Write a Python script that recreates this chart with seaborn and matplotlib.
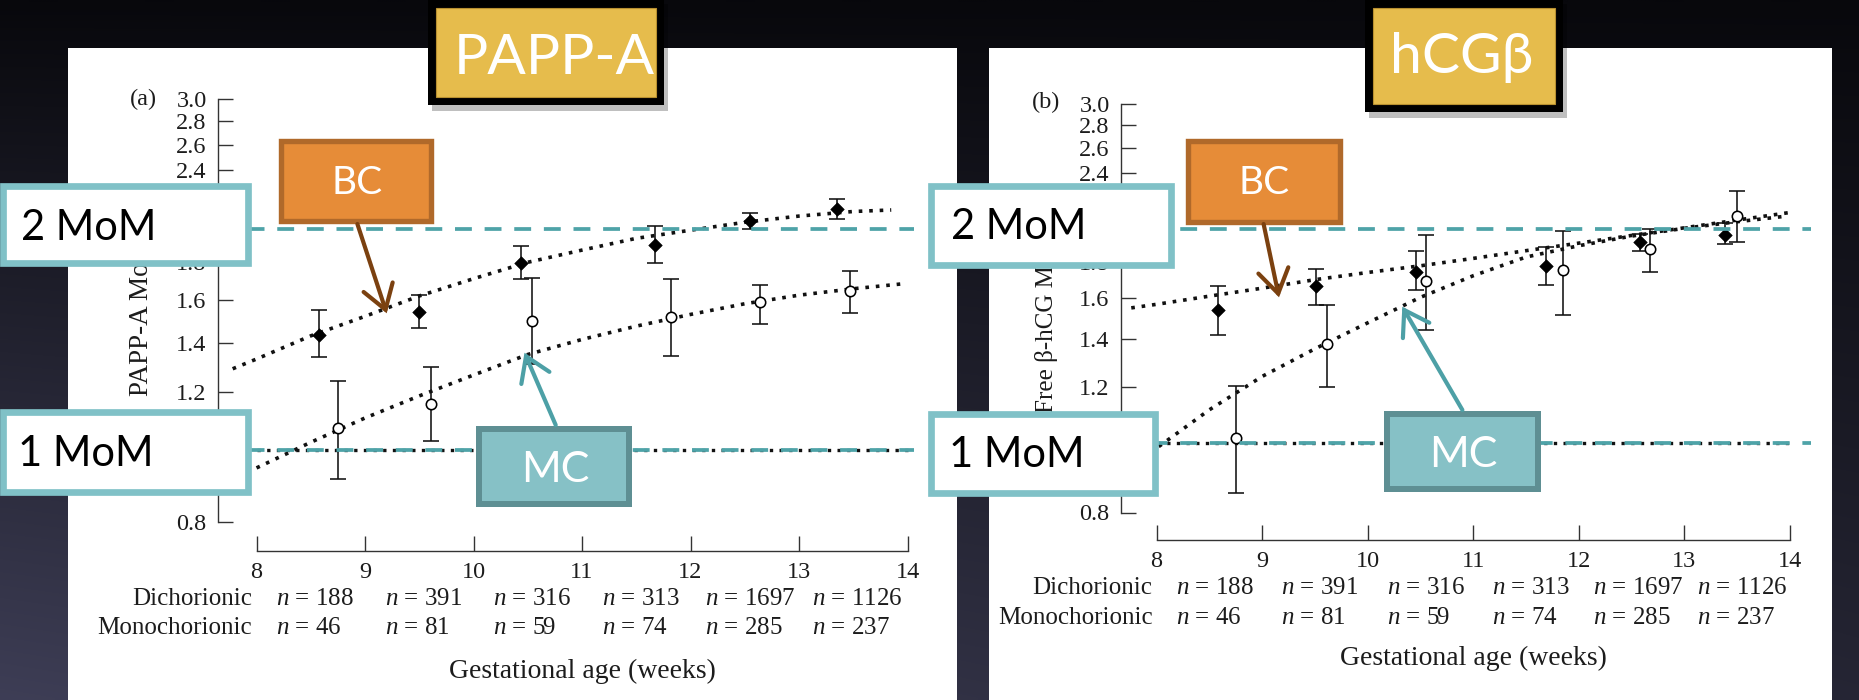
import numpy as np
import pandas as pd
import matplotlib
matplotlib.use("Agg")
import matplotlib.pyplot as plt
import seaborn as sns
from matplotlib.patches import Rectangle, FancyArrowPatch
from matplotlib.ticker import FixedLocator, FuncFormatter, NullLocator

# ---------------- data ----------------
week_ticks = [8, 9, 10, 11, 12, 13, 14]
mom_ticks = [0.8, 1.0, 1.2, 1.4, 1.6, 1.8, 2.0, 2.2, 2.4, 2.6, 2.8, 3.0]
mom_levels = [1.0, 2.0]
mom_level_labels = ["1 MoM", "2 MoM"]
n_dichorionic = [188, 391, 316, 313, 1697, 1126]
n_monochorionic = [46, 81, 59, 74, 285, 237]

# (a) PAPP-A
papp_bc_week = [8.58, 9.50, 10.44, 11.67, 12.55, 13.35]
papp_bc_mom = [1.432, 1.543, 1.796, 1.898, 2.047, 2.127]
papp_bc_lo = [1.337, 1.467, 1.710, 1.796, 1.998, 2.062]
papp_bc_hi = [1.548, 1.627, 1.892, 2.017, 2.097, 2.193]
papp_mc_week = [8.75, 9.61, 10.54, 11.82, 12.64, 13.47]
papp_mc_mom = [1.073, 1.157, 1.497, 1.517, 1.588, 1.644]
papp_mc_lo = [0.915, 1.030, 1.310, 1.342, 1.485, 1.535]
papp_mc_hi = [1.240, 1.297, 1.713, 1.706, 1.676, 1.750]
papp_bc_fit_week = [7.78, 8.0, 8.5, 9.0, 9.5, 10.0, 10.5, 11.0, 11.5, 12.0, 12.5, 13.0, 13.5, 13.85]
papp_bc_fit_mom = [1.29, 1.33, 1.43, 1.52, 1.62, 1.71, 1.80, 1.87, 1.94, 1.99, 2.04, 2.08, 2.11, 2.12]
papp_mc_fit_week = [8.0, 8.5, 9.0, 9.5, 10.0, 10.5, 11.0, 11.5, 12.0, 12.5, 13.0, 13.5, 13.96]
papp_mc_fit_mom = [0.946, 1.025, 1.106, 1.185, 1.265, 1.349, 1.414, 1.474, 1.529, 1.581, 1.624, 1.657, 1.683]

# (b) free beta-hCG
hcg_bc_week = [8.58, 9.51, 10.46, 11.69, 12.58, 13.38]
hcg_bc_mom = [1.541, 1.665, 1.742, 1.772, 1.915, 1.963]
hcg_bc_lo = [1.422, 1.566, 1.640, 1.667, 1.860, 1.907]
hcg_bc_hi = [1.665, 1.759, 1.860, 1.890, 1.968, 2.039]
hcg_mc_week = [8.75, 9.61, 10.55, 11.85, 12.67, 13.50]
hcg_mc_mom = [1.019, 1.380, 1.693, 1.750, 1.875, 2.087]
hcg_mc_lo = [0.851, 1.199, 1.445, 1.513, 1.738, 1.917]
hcg_mc_hi = [1.203, 1.566, 1.963, 1.989, 2.002, 2.258]
hcg_bc_fit_week = [7.76, 8.0, 8.5, 9.0, 9.5, 10.0, 10.5, 11.0, 11.5, 12.0, 12.5, 13.0, 13.5, 14.0]
hcg_bc_fit_mom = [1.550, 1.568, 1.610, 1.652, 1.698, 1.738, 1.776, 1.819, 1.865, 1.911, 1.959, 2.008, 2.059, 2.110]
hcg_mc_fit_week = [8.02, 8.5, 9.0, 9.5, 10.0, 10.5, 11.0, 11.5, 12.0, 12.5, 13.0, 13.5, 13.94]
hcg_mc_fit_mom = [0.990, 1.115, 1.242, 1.358, 1.477, 1.604, 1.720, 1.827, 1.895, 1.955, 2.005, 2.048, 2.083]

# tick labels that sit entirely under the slide's "MoM" boxes
covered_ticks = [1.0, 2.0, 2.2]

# ---------------- style ----------------
sns.set_theme(style="ticks")
plt.rcParams["font.family"] = ["Liberation Serif", "DejaVu Serif"]
plt.rcParams["mathtext.fontset"] = "custom"
plt.rcParams["mathtext.it"] = "Liberation Serif:italic"
plt.rcParams["mathtext.rm"] = "Liberation Serif"
SANS = ["Lato", "Open Sans", "DejaVu Sans"]

W, H = 1859, 700
fig = plt.figure(figsize=(W / 100, H / 100), dpi=100)

TEAL_DASH = "#4EA3A8"
TEAL_EDGE = "#80C1C7"
INK = "#1c1c1c"
DOTS = (0, (1.0, 1.9))

# ---------------- background ----------------
bg = fig.add_axes([0, 0, 1, 1], zorder=0)
bg.set_xlim(0, W)
bg.set_ylim(H, 0)
bg.axis("off")
yy, xx = np.mgrid[0:H:4, 0:W:4]
t = np.clip((yy / H) * (1 - 0.45 * xx / W), 0, 1)
c0 = np.array([8, 8, 12]) / 255
c1 = np.array([62, 62, 86]) / 255
img = c0 + (c1 - c0) * t[..., None]
bg.imshow(img, extent=(0, W, H, 0), aspect="auto", interpolation="bilinear")
bg.add_patch(Rectangle((68.3, 48.3), 957 - 68.3, H - 48.3, fc="white", ec="none"))
bg.add_patch(Rectangle((989.3, 48.3), 1832 - 989.3, H - 48.3, fc="white", ec="none"))


def fp(x, y):
    """slide pixel (y down) -> figure pixels (y up)"""
    return (x, H - y)


n_label_week = [8.18, 9.18, 10.18, 11.18, 12.13, 13.12]


def tick_fmt(v, p):
    for c in covered_ticks:
        if abs(v - c) < 1e-6:
            return ""
    return f"{v:.1f}"


def draw_panel(px_left, px_right, px_top, px_bottom, xmin, spine_off,
               bc, mc, bc_fit, mc_fit, ylabel, ylabel_xy, ylabel_fs, tag, tag_xy,
               row_base, xlabel_base, dash_xmax):
    rect = [px_left / W, 1 - px_bottom / H, (px_right - px_left) / W,
            (px_bottom - px_top) / H]
    ax = fig.add_axes(rect, zorder=5)
    ax.set_facecolor("none")
    ax.set_yscale("log")
    ax.set_xlim(xmin, 14)
    ax.set_ylim(0.8, 3.0)

    # fitted dotted curves
    sns.lineplot(x=bc_fit[0], y=bc_fit[1], ax=ax, color="#111111", lw=2.6,
                 linestyle=DOTS, sort=False, estimator=None, zorder=2)
    sns.lineplot(x=mc_fit[0], y=mc_fit[1], ax=ax, color="#111111", lw=2.6,
                 linestyle=DOTS, sort=False, estimator=None, zorder=2)
    # reference dotted line at 1 MoM
    ax.hlines(mom_levels[0], week_ticks[0], week_ticks[-1], colors="#111111",
              lw=2.4, linestyles=[DOTS], zorder=2, clip_on=False)

    # error bars and markers
    for w, m, lo, hi in (bc, mc):
        m = np.asarray(m)
        ax.errorbar(w, m, yerr=[m - np.asarray(lo), np.asarray(hi) - m], fmt="none",
                    ecolor="#111111", elinewidth=1.15, capsize=5.8, capthick=1.15, zorder=3)
    sns.scatterplot(x=bc[0], y=bc[1], ax=ax, marker="D", s=48, color="black",
                    edgecolor="black", linewidth=0.4, zorder=4)
    sns.scatterplot(x=mc[0], y=mc[1], ax=ax, marker="o", s=56, color="white",
                    edgecolor="black", linewidth=1.15, zorder=4)

    # overlay teal dashed MoM lines
    for lvl in mom_levels:
        ax.plot([xmin, dash_xmax], [lvl, lvl], color=TEAL_DASH, lw=2.7,
                linestyle=(0, (4.5, 3.4)), zorder=8, clip_on=False)

    # axes styling
    ax.yaxis.set_major_locator(FixedLocator(mom_ticks))
    ax.yaxis.set_minor_locator(NullLocator())
    ax.yaxis.set_major_formatter(FuncFormatter(tick_fmt))
    ax.xaxis.set_major_locator(FixedLocator(week_ticks))
    ax.xaxis.set_minor_locator(NullLocator())
    ax.tick_params(direction="in", length=10.8, width=1.0, labelsize=17.5,
                   pad=8, color="#333333", labelcolor=INK)
    for s in ("top", "right"):
        ax.spines[s].set_visible(False)
    ax.spines["left"].set_bounds(mom_ticks[0], mom_ticks[-1])
    ax.spines["bottom"].set_bounds(week_ticks[0], week_ticks[-1])
    ax.spines["bottom"].set_position(("outward", spine_off))
    for s in ("left", "bottom"):
        ax.spines[s].set_color("#333333")
        ax.spines[s].set_linewidth(1.0)
    ax.set_xlabel("")
    ax.set_ylabel("")

    # labels
    ax.annotate(ylabel, xy=fp(*ylabel_xy), xycoords="figure pixels", rotation=90,
                ha="center", va="bottom", fontsize=ylabel_fs, color=INK,
                annotation_clip=False)
    ax.annotate(tag, xy=fp(*tag_xy), xycoords="figure pixels", ha="right",
                va="center", fontsize=17.5, color=INK, annotation_clip=False)
    for name, counts, yb in (("Dichorionic", n_dichorionic, row_base[0]),
                             ("Monochorionic", n_monochorionic, row_base[1])):
        ax.annotate(name, xy=(7.96, H - yb), xycoords=("data", "figure pixels"),
                    ha="right", va="baseline", fontsize=18, color=INK, annotation_clip=False)
        for xw, c in zip(n_label_week, counts):
            ax.annotate(f"$n$ = {c}", xy=(xw, H - yb), xycoords=("data", "figure pixels"),
                        ha="left", va="baseline", fontsize=18, color=INK,
                        annotation_clip=False)
    ax.annotate("Gestational age (weeks)", xy=(11, H - xlabel_base),
                xycoords=("data", "figure pixels"), ha="center", va="baseline",
                fontsize=20, color=INK, annotation_clip=False)
    return ax


ax_a = draw_panel(217.7, 907.5, 99, 521.5, 7.642, 21,
                  (papp_bc_week, papp_bc_mom, papp_bc_lo, papp_bc_hi),
                  (papp_mc_week, papp_mc_mom, papp_mc_lo, papp_mc_hi),
                  (papp_bc_fit_week, papp_bc_fit_mom),
                  (papp_mc_fit_week, papp_mc_fit_mom),
                  "PAPP-A MoM", (141, 396), 19.5, "(a)", (157, 99),
                  (605, 634.5), 678, 14.06)
ax_b = draw_panel(1120.7, 1790, 103.6, 512.5, 7.660, 20,
                  (hcg_bc_week, hcg_bc_mom, hcg_bc_lo, hcg_bc_hi),
                  (hcg_mc_week, hcg_mc_mom, hcg_mc_lo, hcg_mc_hi),
                  (hcg_bc_fit_week, hcg_bc_fit_mom),
                  (hcg_mc_fit_week, hcg_mc_fit_mom),
                  "Free \u03b2-hCG MoM", (1046, 413), 18, "(b)", (1060, 102),
                  (594.5, 623.7), 665, 14.2)

# ---------------- slide overlays ----------------
ov = fig.add_axes([0, 0, 1, 1], zorder=20)
ov.set_xlim(0, W)
ov.set_ylim(H, 0)
ov.axis("off")
ov.set_facecolor("none")


def box(x0, y0, x1, y1, fc, ec, lw_px, z=1):
    ov.add_patch(Rectangle((x0 + lw_px / 2, y0 + lw_px / 2), x1 - x0 - lw_px,
                           y1 - y0 - lw_px, fc=fc, ec=ec, lw=lw_px * 0.72,
                           joinstyle="miter", zorder=z))


# title boxes
for (x0, y0, x1, y1), txt, kw in (
        ((428, -2, 664, 105), "PAPP-A", dict(x=454, ha="left", y=74)),
        ((1365, -2, 1562.7, 111.7), "hCG\u03b2", dict(x=1462, ha="center", y=73.3))):
    ov.add_patch(Rectangle((x0 + 4, y0 + 6), x1 - x0, y1 - y0, fc="black",
                           alpha=0.25, ec="none", zorder=0.5))
    ov.add_patch(Rectangle((x0, y0), x1 - x0, y1 - y0, fc="black", ec="none", zorder=1))
    ov.add_patch(Rectangle((x0 + 7.7, y0 + 10.3), x1 - x0 - 15.4, y1 - y0 - 18.3,
                           fc="#E6BC4C", ec="#B89030", lw=0.8, zorder=1.5))
    ov.text(kw["x"], kw["y"], txt, ha=kw["ha"], va="baseline", fontsize=41,
            color="white", family=SANS, zorder=2)

# MoM boxes
mom_boxes = [
    ((0, 182.7, 251.7, 266.7), (21, 240)),
    ((0, 408.3, 251.7, 495.0), (18, 465.5)),
    ((927.3, 182.5, 1174, 268.3), (951, 239)),
    ((927.3, 410.7, 1158.4, 496.7), (949.3, 466.7)),
]
for i, ((x0, y0, x1, y1), (tx, ty)) in enumerate(mom_boxes):
    box(x0, y0, x1, y1, "white", TEAL_EDGE, 6.7)
    label = mom_level_labels[1] if i % 2 == 0 else mom_level_labels[0]
    ov.text(tx, ty, label, ha="left", va="baseline", fontsize=30, color="black",
            family=SANS, zorder=3)

# BC / MC boxes with arrows
BC_FILL, BC_EDGE, BC_ARROW = "#E68C38", "#B0692A", "#7B4110"
MC_FILL, MC_EDGE, MC_ARROW = "#86C1C6", "#5E8F93", "#4DA0A6"
tags = [
    ((278, 138.2, 434, 224.2), "BC", (357.4, 194.3), 28, BC_FILL, BC_EDGE, 5.4,
     BC_ARROW, (357.4, 224), (386.7, 313.3)),
    ((1185.5, 138.4, 1342.7, 224.2), "BC", (1264.5, 194.3), 28, BC_FILL, BC_EDGE, 5.4,
     BC_ARROW, (1263.6, 224), (1279, 297.3)),
    ((476, 425.7, 632, 506.7), "MC", (555.0, 481.7), 31, MC_FILL, MC_EDGE, 6.0,
     MC_ARROW, (555.7, 425), (524.5, 352.7)),
    ((1384.2, 410.7, 1541, 492.3), "MC", (1463.3, 466.7), 31, MC_FILL, MC_EDGE, 6.0,
     MC_ARROW, (1462.4, 410), (1402.3, 306.7)),
]
for (bx, txt, tpos, fs, fc, ec, lwpx, acol, a0, a1) in tags:
    box(*bx, fc, ec, lwpx, z=2)
    ov.text(tpos[0], tpos[1], txt, ha="center", va="baseline", fontsize=fs,
            color="white", family=SANS, zorder=3)
    arr = FancyArrowPatch(a0, a1, arrowstyle="->,head_length=0.85,head_width=0.55",
                          mutation_scale=20, lw=3.0, color=acol, shrinkA=0, shrinkB=0,
                          capstyle="round", joinstyle="miter", zorder=2.5)
    ov.add_patch(arr)

fig.savefig("out.png", dpi=100)
